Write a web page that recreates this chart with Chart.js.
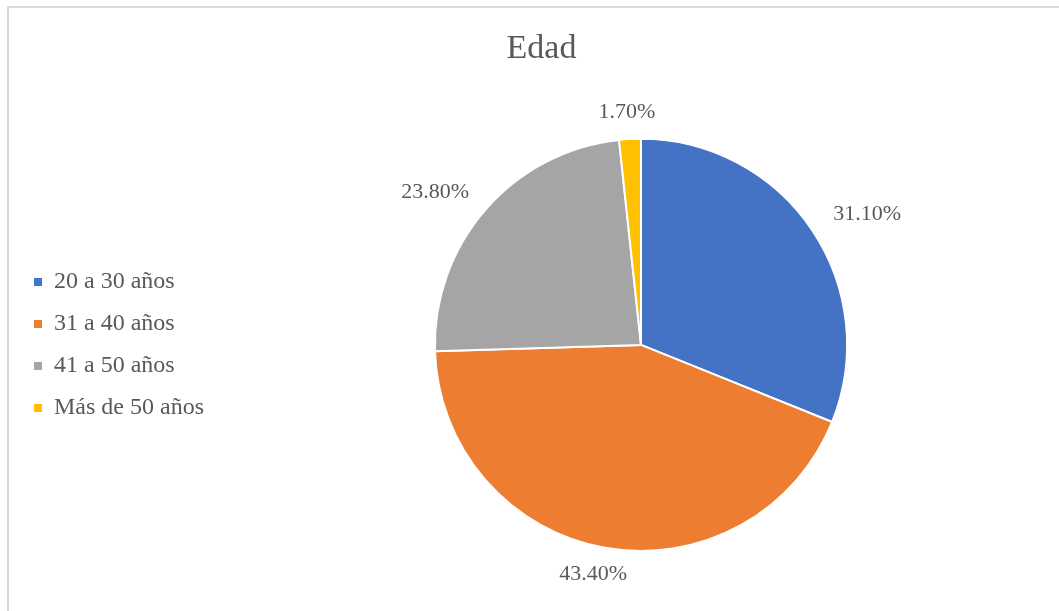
<!DOCTYPE html>
<html>
<head>
<meta charset="utf-8">
<script src="https://cdn.jsdelivr.net/npm/chart.js@4/dist/chart.umd.min.js"></script>
<style>
    html, body { margin: 0; padding: 0; background: #fff; overflow: hidden; }
    #marco {
        position: absolute; left: 7px; top: 6px;
        width: 1058px; height: 603px;
        border-top: 2px solid #d9d9d9; border-left: 2px solid #d9d9d9;
    }
</style>
</head>
<body>
<div id="marco"><canvas id="myChart"></canvas></div>
<script>
// Datos del gráfico
const titulo = 'Edad';
const categorias = ['20 a 30 años', '31 a 40 años', '41 a 50 años', 'Más de 50 años'];
const porcentajes = [31.1, 43.4, 23.8, 1.7];
const colores = ['#4472C4', '#ED7D31', '#A5A5A5', '#FFC000'];

const grisTexto = '#595959';
const fuente = "'Liberation Serif', 'Times New Roman', serif";

// Ancho fijo de la leyenda para que el pastel quede donde va
const anchoLeyenda = 199;
const bajarLeyenda = 65;
const leyendaFija = {
    id: 'leyendaFija',
    beforeLayout(chart) {
        const lg = chart.legend;
        if (lg && !lg._fijo) {
            const fitOriginal = lg.fit;
            lg.fit = function () {
                fitOriginal.call(this);
                this.width = anchoLeyenda;
            };
            lg._fijo = true;
        }
    },
    afterLayout(chart) {
        // la leyenda va centrada respecto al pastel
        chart.legend.top += bajarLeyenda;
        chart.legend.bottom += bajarLeyenda;
    }
};

// Etiquetas de porcentaje fuera de cada porción
const etiquetas = {
    id: 'etiquetas',
    afterDatasetsDraw(chart) {
        const ctx = chart.ctx;
        const arcos = chart.getDatasetMeta(0).data;
        ctx.save();
        ctx.font = '22px ' + fuente;
        ctx.fillStyle = grisTexto;
        ctx.textAlign = 'center';
        ctx.textBaseline = 'middle';
        arcos.forEach(function (arco, i) {
            const p = arco.getProps(['x', 'y', 'startAngle', 'endAngle', 'outerRadius']);
            const medio = (p.startAngle + p.endAngle) / 2;
            const texto = porcentajes[i].toFixed(2) + '%';
            const w = ctx.measureText(texto).width;
            const h = 22;
            const r = p.outerRadius + 16;
            const x = p.x + Math.cos(medio) * (r + 0.75 * w);
            const y = p.y + Math.sin(medio) * (r + 0.5 * h);
            ctx.fillText(texto, x, y);
        });
        ctx.restore();
    }
};

var ctx = document.getElementById('myChart').getContext('2d');
var myChart = new Chart(ctx, {
    type: 'pie',
    data: {
        labels: categorias,
        datasets: [{
            data: porcentajes,
            backgroundColor: colores,
            borderColor: '#ffffff',
            borderWidth: 2
        }]
    },
    options: {
        responsive: true,
        maintainAspectRatio: false,
        animation: false,
        layout: {
            padding: { left: 7, right: 0, top: 0, bottom: 59 }
        },
        plugins: {
            title: {
                display: true,
                text: titulo,
                color: grisTexto,
                font: { family: fuente, size: 34, weight: 'normal' },
                padding: { top: 21, bottom: 68 }
            },
            legend: {
                position: 'left',
                labels: {
                    boxWidth: 8,
                    boxHeight: 8,
                    padding: 18,
                    color: grisTexto,
                    font: { family: fuente, size: 24 },
                    // cuadritos sin borde blanco
                    generateLabels: function (chart) {
                        const base = Chart.overrides.pie.plugins.legend.labels.generateLabels(chart);
                        return base.map(function (item) {
                            item.lineWidth = 0;
                            return item;
                        });
                    }
                }
            },
            tooltip: { enabled: false }
        }
    },
    plugins: [leyendaFija, etiquetas]
});
</script>
</body>
</html>
